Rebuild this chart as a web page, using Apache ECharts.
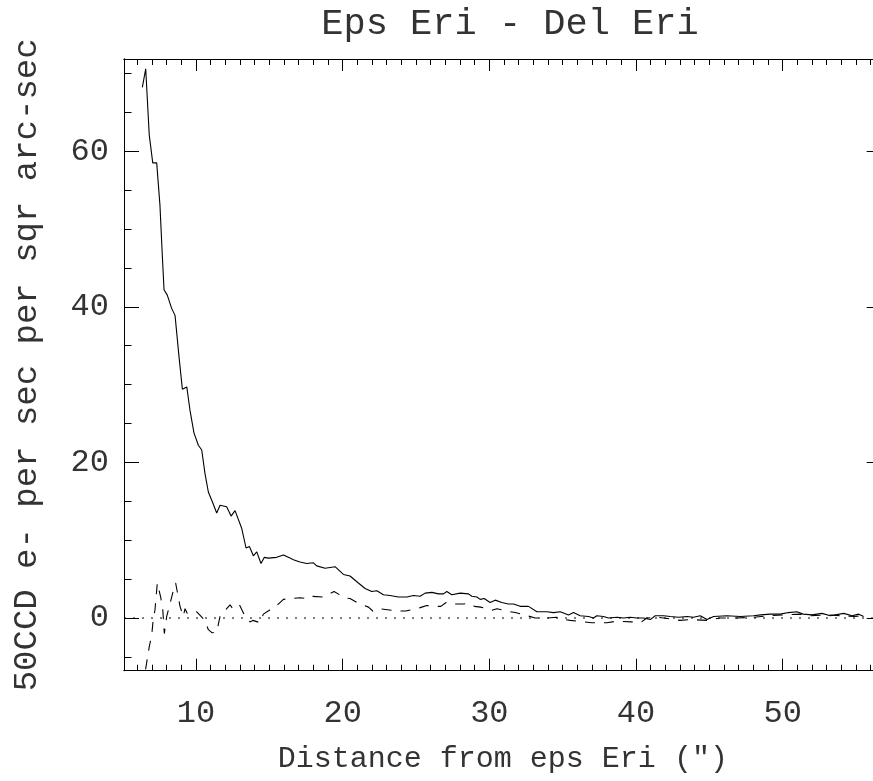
<!DOCTYPE html>
<html>
<head>
<meta charset="utf-8">
<script src="https://cdn.jsdelivr.net/npm/echarts@6/dist/echarts.min.js"></script>
<style>
html,body{margin:0;padding:0;background:#fff;}
#chart{width:873px;height:781px;}
</style>
</head>
<body>
<div id="chart"></div>
<script>
// ---- data ----
const titleText = 'Eps Eri - Del Eri';
const xTitle = 'Distance from eps Eri (")';
const yTitle = '50CCD e- per sec per sqr arc-sec';

const xMajor = [10, 20, 30, 40, 50];
const xMinor = [6, 7, 8, 9, 11, 12, 13, 14, 15, 16, 17, 18, 19, 21, 22, 23, 24, 25, 26, 27, 28, 29,
  31, 32, 33, 34, 35, 36, 37, 38, 39, 41, 42, 43, 44, 45, 46, 47, 48, 49, 51, 52, 53, 54, 55, 56];
const yMajor = [0, 20, 40, 60];
const yMinor = [-5, 5, 10, 15, 25, 30, 35, 45, 50, 55, 65, 70];

const solidX = [6.34, 6.57, 6.81, 7.05, 7.32, 7.54, 7.70, 7.82, 8.04, 8.34,
  8.57, 8.84, 9.07, 9.37, 9.59, 9.86, 10.16, 10.39, 10.61, 10.84,
  11.1, 11.41, 11.64, 12.09, 12.39, 12.66, 13.12, 13.41, 13.64, 13.91,
  14.14, 14.43, 14.66, 14.93, 15.5, 15.96, 16.41, 16.64, 17.09, 17.55,
  18.0, 18.23, 18.8, 19.48, 20.05, 20.5, 21.07, 21.53, 21.98, 22.33,
  22.78, 23.23, 23.8, 24.37, 24.82, 25.28, 25.62, 26.08, 26.53, 26.87,
  27.1, 27.44, 28.01, 28.58, 28.8, 29.15, 29.37, 29.65, 30.05, 30.4,
  30.85, 31.3, 31.65, 32.1, 32.67, 33.24, 33.92, 34.37, 34.83, 35.4,
  35.74, 36.19, 36.76, 37.1, 37.33, 37.78, 38.12, 38.7, 39.15, 39.6,
  40.06, 40.51, 40.97, 41.31, 41.88, 42.33, 42.9, 43.47, 43.92, 44.38,
  44.84, 45.29, 46.2, 47.11, 48.0, 48.5, 49.15, 49.84, 50.4, 50.97,
  51.4, 52.0, 52.68, 53.25, 54.16, 54.73, 55.18, 55.52];
const solidY = [68.2, 70.6, 62.1, 58.5, 58.5, 53.1, 46.7, 42.2, 41.5, 39.8,
  38.9, 33.6, 29.4, 29.7, 26.7, 23.8, 22.2, 21.6, 18.6, 16.2,
  15.0, 13.5, 14.5, 14.3, 13.1, 13.8, 11.5, 9.0, 9.2, 8.0,
  8.5, 7.0, 7.8, 7.7, 7.8, 8.1, 7.7, 7.5, 7.2, 7.0,
  7.1, 6.7, 6.4, 6.6, 5.6, 5.4, 4.5, 3.8, 3.4, 3.5,
  3.0, 2.9, 2.7, 2.7, 2.9, 2.8, 3.2, 3.3, 3.1, 3.1,
  3.4, 3.0, 3.2, 3.1, 2.8, 2.7, 2.4, 2.5, 2.0, 2.3,
  2.0, 1.8, 1.8, 1.5, 1.5, 0.8, 0.8, 0.7, 0.8, 0.4,
  0.7, 0.3, 0.2, 0.0, 0.3, 0.2, 0.0, 0.1, 0.0, 0.1,
  0.0, 0.0, -0.2, 0.3, 0.3, 0.2, 0.1, 0.2, 0.1, 0.3,
  -0.2, 0.2, 0.3, 0.2, 0.3, 0.4, 0.5, 0.5, 0.7, 0.8,
  0.5, 0.4, 0.6, 0.3, 0.6, 0.3, 0.5, 0.2];

const dashX = [6.34, 6.57, 6.81, 6.98, 7.09, 7.2, 7.36, 7.59, 7.73, 7.84,
  8.0, 8.18, 8.41, 8.61, 8.79, 8.91, 9.13, 9.25, 9.4, 9.71,
  9.82, 10.05, 10.2, 10.61, 10.84, 11.1, 11.41, 11.64, 12.09, 12.32,
  12.5, 12.96, 13.19, 13.34, 13.68, 13.87, 14.37, 14.59, 15.0, 15.5,
  15.96, 16.5, 17.09, 17.55, 17.82, 18.68, 19.41, 20.16, 20.5, 20.96,
  21.76, 22.05, 22.44, 23.35, 23.8, 24.3, 25.05, 25.39, 25.73, 26.2,
  26.69, 27.05, 27.33, 28.24, 28.58, 28.99, 29.4, 29.83, 30.17, 30.51,
  31.0, 31.42, 31.76, 32.22, 33.12, 33.92, 34.6, 35.16, 35.51, 36.42,
  36.99, 38.01, 38.7, 39.72, 40.29, 40.74, 41.42, 41.88, 43.0, 43.7,
  44.84, 45.75, 46.88, 48.0, 49.16, 50.07, 51.2, 51.89, 53.0, 53.93,
  54.84, 55.52];
const dashY = [-9, -6.5, -3.7, -2.2, 0.0, 1.0, 4.5, 2.7, 1.2, -2.0,
  0.2, 1.5, 3.2, 4.5, 2.7, 1.5, 0.2, 1.2, 0.6, 0.8,
  0.6, 0.8, 0.5, -0.3, -1.5, -1.9, -1.8, 0.2, 1.2, 1.7,
  1.2, 1.7, 0.8, 0.2, -0.5, -0.3, -0.6, 0.5, 1.0, 1.6,
  2.4, 2.5, 2.6, 2.5, 2.8, 2.7, 3.4, 2.6, 2.5, 2.0,
  1.4, 0.9, 1.2, 1.0, 0.9, 0.9, 1.2, 1.4, 1.6, 1.5,
  1.5, 2.0, 1.8, 1.8, 1.9, 1.5, 1.4, 1.2, 1.0, 1.2,
  1.0, 0.8, 0.7, 0.5, 0.0, 0.0, 0.1, -0.2, -0.3, -0.5,
  -0.6, -0.6, -0.4, -0.5, -0.6, 0.0, 0.1, 0.0, -0.3, -0.2,
  -0.3, 0.0, 0.0, 0.1, 0.3, 0.4, 0.5, 0.3, 0.4, 0.3,
  0.2, 0.3];

const xRange = [5.09, 56.75];
const yRange = [-6.77, 71.85];
const zeroLine = [0, 0];

// ---- chart ----
const FONT = "'Liberation Mono', 'DejaVu Sans Mono', monospace";
const TXT = '#333';
const INK = '#000';
function zip(a, b) { const n = Math.min(a.length, b.length); const r = []; for (let i = 0; i < n; i++) r.push([a[i], b[i]]); return r; }

function xAx(pos, ticks, len, labels, name) {
  return {
    type: 'value', position: pos, min: xRange[0], max: xRange[1], gridIndex: 0,
    axisLine: { show: true, onZero: false, lineStyle: { color: INK, width: 1 } },
    axisTick: { show: true, inside: true, length: len, customValues: ticks, lineStyle: { color: INK, width: 1 } },
    axisLabel: labels ? { show: true, customValues: ticks, fontSize: 32, margin: 27, color: TXT, fontFamily: FONT } : { show: false },
    splitLine: { show: false },
    name: name || '', nameLocation: 'middle', nameGap: 73,
    nameTextStyle: { fontSize: 30, color: TXT, fontFamily: FONT }
  };
}
function yAx(pos, ticks, len, labels, name) {
  return {
    type: 'value', position: pos, min: yRange[0], max: yRange[1], gridIndex: 0,
    axisLine: { show: true, onZero: false, lineStyle: { color: INK, width: 1 } },
    axisTick: { show: true, inside: true, length: len, customValues: ticks, lineStyle: { color: INK, width: 1 } },
    axisLabel: labels ? { show: true, customValues: ticks, fontSize: 32, margin: 15, color: TXT, fontFamily: FONT } : { show: false },
    splitLine: { show: false },
    name: name || '', nameLocation: 'middle', nameGap: 80,
    nameTextStyle: { fontSize: 34, color: TXT, fontFamily: FONT }
  };
}

const chart = echarts.init(document.getElementById('chart'), null, { renderer: 'canvas' });
chart.setOption({
  animation: false,
  backgroundColor: '#fff',
  title: {
    text: titleText, left: 505, top: 1, textAlign: 'center',
    textStyle: { fontSize: 37, color: TXT, fontFamily: FONT, fontWeight: 'normal' }
  },
  grid: { left: 124, top: 59, width: 757.7, height: 611.7, containLabel: false, outerBoundsMode: 'none' },
  xAxis: [
    xAx('bottom', xMajor, 12, true, xTitle),
    xAx('bottom', xMinor, 6, false),
    xAx('top', xMajor, 12, false),
    xAx('top', xMinor, 6, false)
  ],
  yAxis: [
    yAx('left', yMajor, 15, true, yTitle),
    yAx('left', yMinor, 7.5, false),
    yAx('right', yMajor, 15, false),
    yAx('right', yMinor, 7.5, false)
  ],
  series: [
    {
      type: 'line', xAxisIndex: 0, yAxisIndex: 0, data: zip(solidX, solidY),
      showSymbol: false, symbol: 'none', clip: true,
      lineStyle: { color: INK, width: 1.1, type: 'solid' }
    },
    {
      type: 'line', xAxisIndex: 0, yAxisIndex: 0, data: zip(dashX, dashY),
      showSymbol: false, symbol: 'none', clip: true,
      lineStyle: { color: INK, width: 1.1, type: [10, 9] }
    },
    {
      type: 'line', xAxisIndex: 0, yAxisIndex: 0, data: zip(xRange, zeroLine),
      showSymbol: false, symbol: 'none', clip: true,
      lineStyle: { color: INK, width: 1, type: [2, 7] }
    }
  ]
});
</script>
</body>
</html>
